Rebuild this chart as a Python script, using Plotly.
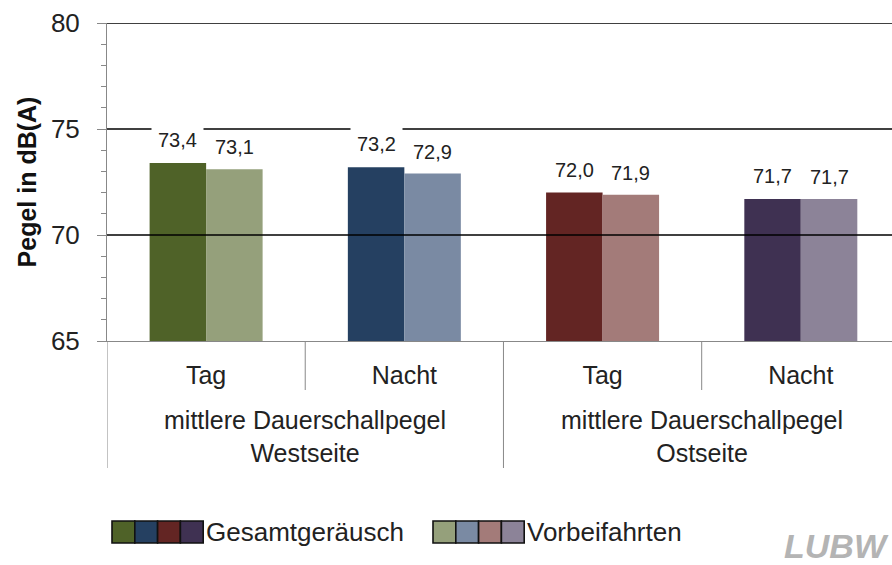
import plotly.graph_objects as go

# ---- data ----
inner = ["Tag", "Nacht", "Tag", "Nacht"]
outer_groups = ["mittlere Dauerschallpegel<br>Westseite", "mittlere Dauerschallpegel<br>Ostseite"]
gesamt = [73.4, 73.2, 72.0, 71.7]
vorbei = [73.1, 72.9, 71.9, 71.7]
gesamt_labels = ["73,4", "73,2", "72,0", "71,7"]
vorbei_labels = ["73,1", "72,9", "71,9", "71,7"]
series_names = ["Gesamtgeräusch", "Vorbeifahrten"]
dark_colors = ["#4F6228", "#254061", "#632523", "#3F3152"]
light_colors = ["#95A07B", "#7A8AA3", "#A37B79", "#8C8398"]
y_ticks = [65, 70, 75, 80]
grid_vals = [70, 75, 80]

FONT = "Liberation Sans, Arial, sans-serif"
W, H = 892, 565
ML, MT, MB, MR = 107, 23, 224, 0
PW = W - ML - MR
PH = H - MT - MB

idx = list(range(len(inner)))
bargap = 0.43
off = (1 - bargap) / 4

def px(xp):
    return (xp - ML) / PW

def py(yp):
    return (H - MB - yp) / PH

fig = go.Figure()
fig.add_trace(go.Bar(x=idx, y=gesamt, name=series_names[0],
                     marker=dict(color=dark_colors, line=dict(width=0))))
fig.add_trace(go.Bar(x=idx, y=vorbei, name=series_names[1],
                     marker=dict(color=light_colors, line=dict(width=0))))

# gridlines above bars
for g in grid_vals:
    fig.add_shape(type="line", xref="paper", yref="y", x0=0, x1=1, y0=g, y1=g,
                  line=dict(color="#000000", width=1.3), layer="above")

# category separators (short between Tag/Nacht, long between groups)
for i in idx:
    b = i - 0.5
    long_div = (i % 2 == 0)
    fig.add_shape(type="line", xref="x", yref="paper", x0=b, x1=b,
                  y0=0, y1=py(468) if long_div else py(390),
                  line=dict(color="#888", width=1))

# outer group labels
for gi, lab in enumerate(outer_groups):
    fig.add_annotation(xref="x", yref="paper", x=2 * gi + 0.5, y=py(436),
                       text=lab, showarrow=False, xanchor="center", yanchor="middle",
                       font=dict(family=FONT, size=25, color="#222"))

# value labels
for i in idx:
    fig.add_annotation(x=i - off, y=gesamt[i], xref="x", yref="y", text=gesamt_labels[i],
                       showarrow=False, yshift=23, bgcolor="white", borderpad=6,
                       font=dict(family=FONT, size=20, color="#222"))
    fig.add_annotation(x=i + off, y=vorbei[i], xref="x", yref="y", text=vorbei_labels[i],
                       showarrow=False, yshift=22,
                       font=dict(family=FONT, size=20, color="#222"))

# custom legend
def legend_block(x0, colors, label):
    sw = 22.8
    for k, c in enumerate(colors):
        fig.add_shape(type="rect", xref="paper", yref="paper",
                      x0=px(x0 + k * sw), x1=px(x0 + (k + 1) * sw),
                      y0=py(543), y1=py(521), fillcolor=c,
                      line=dict(color="#111", width=1.6))
    fig.add_annotation(xref="paper", yref="paper", x=px(x0 + 4 * sw + 2), y=py(532),
                       xanchor="left", yanchor="middle", text=label, showarrow=False,
                       borderpad=0,
                       font=dict(family=FONT, size=26, color="#222"))

legend_block(112, dark_colors, series_names[0])
legend_block(433, light_colors, series_names[1])

# logo
fig.add_annotation(xref="paper", yref="paper", x=px(890), y=py(546), xanchor="right",
                   yanchor="middle", text="<b><i>LUBW</i></b>", showarrow=False, borderpad=0,
                   font=dict(family="Liberation Sans Narrow, Liberation Sans", size=34, color="#B4B4B4"))

fig.update_layout(
    width=W, height=H,
    margin=dict(l=ML, r=MR, t=MT, b=MB, pad=0, autoexpand=False),
    paper_bgcolor="white", plot_bgcolor="white",
    barmode="group", bargap=bargap, bargroupgap=0,
    showlegend=False,
    font=dict(family=FONT, color="#222"),
)
fig.update_xaxes(
    range=[-0.5, 3.46], tickvals=idx, ticktext=inner,
    showline=True, linecolor="#888", linewidth=1,
    ticks="outside", ticklen=12, tickcolor="rgba(0,0,0,0)",
    tickfont=dict(family=FONT, size=25, color="#222"),
    showgrid=False, zeroline=False, automargin=False,
)
fig.update_yaxes(
    range=[65, 80], tickvals=y_ticks, ticktext=[str(v) for v in y_ticks],
    showline=True, linecolor="#888", linewidth=1,
    ticks="outside", ticklen=9, tickcolor="#888", ticklabelstandoff=12,
    minor=dict(dtick=1, ticks="outside", ticklen=5, tickcolor="#888", showgrid=False),
    showgrid=False, zeroline=False, automargin=False,
    tickfont=dict(family=FONT, size=26, color="#222"),
    title=dict(text="<b>Pegel in dB(A)</b>", font=dict(family=FONT, size=25, color="#111"), standoff=7),
)

fig.write_html("out.html", config={"displayModeBar": False},
               post_script="document.body.style.margin='0';document.body.style.overflow='hidden';")
